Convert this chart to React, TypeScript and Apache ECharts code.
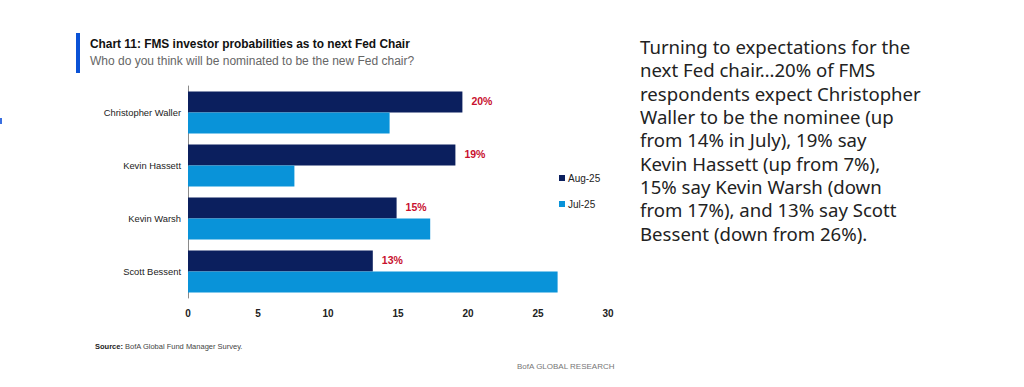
import React, { useEffect, useRef } from "react";
import * as echarts from "echarts";

const categories = ["Christopher Waller", "Kevin Hassett", "Kevin Warsh", "Scott Bessent"];
const aug25 = [19.6, 19.1, 14.9, 13.2];
const jul25 = [14.4, 7.6, 17.3, 26.4];
const augLabels = ["20%", "19%", "15%", "13%"];
const seriesNames = ["Aug-25", "Jul-25"];
const bodyLines = [
  "Turning to expectations for the",
  "next Fed chair…20% of FMS",
  "respondents expect Christopher",
  "Waller to be the nominee (up",
  "from 14% in July), 19% say",
  "Kevin Hassett (up from 7%),",
  "15% say Kevin Warsh (down",
  "from 17%), and 13% say Scott",
  "Bessent (down from 26%).",
];

const SANS = "'Liberation Sans', Arial, sans-serif";

export default function App() {
  const ref = useRef<HTMLDivElement>(null);
  useEffect(() => {
    if (!ref.current) return;
    const chart = echarts.init(ref.current, undefined, { renderer: "svg" });
    chart.setOption({
      animation: false,
      backgroundColor: "#ffffff",
      grid: { left: 188, right: 416, top: 86, bottom: 89 },
      xAxis: {
        type: "value",
        min: 0,
        max: 30,
        interval: 5,
        axisLine: { show: false },
        axisTick: { show: false },
        splitLine: { show: false },
        axisLabel: { color: "#222", fontSize: 10, fontFamily: SANS, fontWeight: "bold", margin: 10 },
      },
      yAxis: {
        type: "category",
        data: categories,
        inverse: true,
        axisLine: { show: true, lineStyle: { color: "#8a8a8a", width: 1 } },
        axisTick: { show: false },
        axisLabel: { color: "#222", fontSize: 9.4, fontFamily: SANS, margin: 7 },
      },
      legend: {
        orient: "vertical",
        left: 554,
        top: 168,
        itemWidth: 6,
        itemHeight: 6,
        itemGap: 16,
        icon: "rect",
        data: seriesNames,
        textStyle: { color: "#222", fontSize: 10, fontFamily: SANS, padding: [0, 0, 0, -2] },
      },
      series: [
        {
          name: seriesNames[0],
          type: "bar",
          data: aug25,
          barWidth: 21,
          barGap: "0%",
          itemStyle: { color: "#0b1f5e" },
          label: {
            show: true,
            position: "right",
            distance: 9,
            offset: [0, -1],
            formatter: (p: any) => augLabels[p.dataIndex],
            color: "#c8102e",
            fontWeight: "bold",
            fontSize: 10.5,
            fontFamily: SANS,
          },
        },
        {
          name: seriesNames[1],
          type: "bar",
          data: jul25,
          barWidth: 21,
          barGap: "0%",
          itemStyle: { color: "#0993d9" },
        },
      ],
      graphic: [
        { type: "rect", shape: { x: 76, y: 33, width: 4, height: 40 }, style: { fill: "#0a52d6" } },
        { type: "rect", shape: { x: 0, y: 118, width: 2, height: 6 }, style: { fill: "#3a6fe0" } },
        {
          type: "text",
          x: 90,
          y: 38,
          style: {
            text: "Chart 11: FMS investor probabilities as to next Fed Chair",
            fill: "#111",
            font: "bold 11.9px " + SANS,
          },
        },
        {
          type: "text",
          x: 90,
          y: 55,
          style: {
            text: "Who do you think will be nominated to be the new Fed chair?",
            fill: "#666",
            font: "12px " + SANS,
          },
        },
        {
          type: "text",
          x: 95,
          y: 342,
          style: {
            rich: {
              b: { font: "bold 7.5px " + SANS, fill: "#222" },
              n: { font: "7.5px " + SANS, fill: "#444" },
            },
            text: "{b|Source:}{n| BofA Global Fund Manager Survey.}",
          },
        },
        {
          type: "text",
          x: 517,
          y: 362,
          style: { text: "BofA GLOBAL RESEARCH", fill: "#777", font: "8px " + SANS },
        },
        {
          type: "text",
          x: 640,
          y: 35,
          style: {
            text: bodyLines.join("\n"),
            fill: "#222",
            font: "18.6px 'Noto Sans', 'Open Sans', sans-serif",
            lineHeight: 23.3,
          },
        },
      ],
    });
    return () => chart.dispose();
  }, []);
  return (
    <div
      ref={ref}
      style={{ position: "fixed", left: 0, top: 0, width: 1024, height: 387, background: "#fff" }}
    />
  );
}
